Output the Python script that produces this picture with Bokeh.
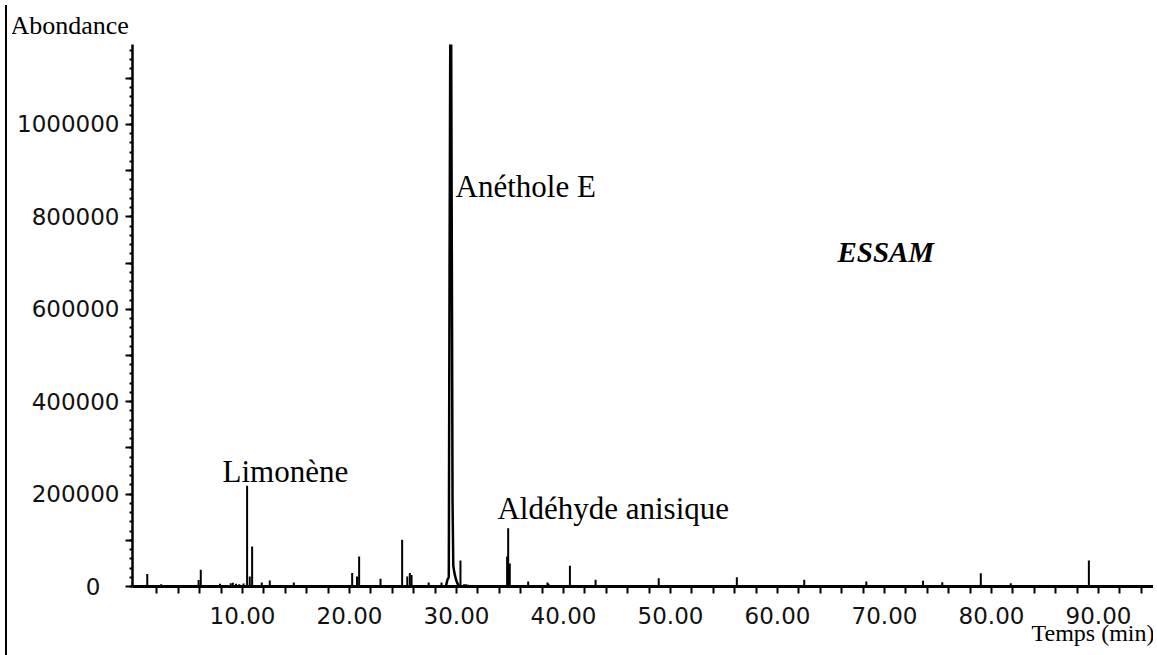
from bokeh.plotting import figure
from bokeh.layouts import row
from bokeh.models import ColumnDataSource, FixedTicker, Label, NumeralTickFormatter, Div, Title
from bokeh.embed import file_html
from bokeh.resources import INLINE

# ---- data ----
peak_time = [1.1, 2.4, 5.9, 6.1, 7.9, 8.9, 9.1, 9.4, 9.7, 10.1, 10.43, 10.68, 10.9,
             11.8, 12.55, 14.8, 20.25, 20.7, 20.9, 22.9, 24.92, 25.4, 25.64, 25.8,
             27.4, 28.6, 30.37, 30.7, 30.9, 31.1, 34.73, 34.83, 34.98, 36.7, 38.5,
             38.6, 40.6, 43.0, 48.9, 56.2, 62.5, 68.3, 73.6, 75.4, 79.0, 81.8, 89.1]
peak_abund = [27000, 5000, 14000, 36000, 6000, 7000, 8000, 6000, 5000, 6500, 218000, 21600, 86500,
              8700, 13000, 8700, 29000, 21600, 65000, 16600, 101000, 21600, 29000, 25000,
              8700, 8700, 56000, 5000, 5000, 4000, 65000, 126000, 50000, 10800, 8700,
              6000, 44700, 14400, 18000, 20000, 14400, 10800, 12300, 9400, 28800, 7200, 56000]

# main peak (anethole E) profile
main_time = [29.0, 29.16, 29.28, 29.35, 29.42, 29.5, 29.58, 29.63, 29.7, 29.8, 29.95, 30.1, 30.25]
main_abund = [0, 15000, 20000, 686000, 1200000, 1200000, 600000, 187000, 45000, 30000, 15000, 6000, 0]

x_major = [10, 20, 30, 40, 50, 60, 70, 80, 90]
x_minor = [2, 4, 6, 8, 12, 14, 16, 18, 22, 24, 26, 28, 32, 34, 36, 38, 42, 44, 46, 48,
           52, 54, 56, 58, 62, 64, 66, 68, 72, 74, 76, 78, 82, 84, 86, 88, 92, 94]
y_major = list(range(0, 1200000, 100000))
y_minor = list(range(0, 1180000, 20000))
y_labelled = [0, 200000, 400000, 600000, 800000, 1000000]

# peak annotations (data units, text middle)
annotations = [
    ("Limonène", 8.13, 248900, "31px", "normal"),
    ("Anéthole E", 29.91, 865600, "31px", "normal"),
    ("Aldéhyde anisique", 33.83, 168800, "31px", "normal"),
    ("ESSAM", 65.6, 725000, "29px", "bold italic"),
]
y_caption = "Abondance"
x_caption = "Temps (min)"

p = figure(width=1141, height=654, x_range=(-0.28, 95.14), y_range=(0, 1173000),
           output_backend="svg", toolbar_location=None,
           min_border_left=120, min_border_right=0, min_border_top=44, min_border_bottom=68)
p.xgrid.visible = False
p.ygrid.visible = False
p.outline_line_color = None
p.background_fill_color = "white"
p.border_fill_color = "white"

src = ColumnDataSource(dict(t=peak_time, h=peak_abund))
p.segment(x0="t", y0=0, x1="t", y1="h", source=src, line_width=2, line_color="black")
p.line(main_time, main_abund, line_width=2.5, line_color="black")

# x axis
xa = p.xaxis[0]
xa.ticker = FixedTicker(ticks=x_major, minor_ticks=x_minor)
xa.formatter = NumeralTickFormatter(format="0.00")
xa.axis_line_width = 3
xa.axis_line_color = "black"
xa.major_tick_out = 7
xa.major_tick_in = 0
xa.minor_tick_out = 7
xa.minor_tick_in = 0
xa.major_tick_line_width = 2
xa.minor_tick_line_width = 2
xa.major_label_text_font = "DejaVu Sans"
xa.major_label_text_font_size = "23px"
xa.major_label_text_color = "#111111"
xa.major_label_standoff = 13
xa.axis_label_text_font = "Liberation Serif"
xa.axis_label_text_font_size = "24px"
xa.axis_label_text_font_style = "normal"
xa.axis_label_text_color = "black"
xa.axis_label_standoff = -7
# centred caption; leading figure spaces push the visible words to the axis end
xa.axis_label = "\u2007" * 75 + x_caption

# y axis
ya = p.yaxis[0]
ya.ticker = FixedTicker(ticks=y_major, minor_ticks=y_minor)
ya.formatter = NumeralTickFormatter(format="0")
overrides = {v: "" for v in y_major if v not in y_labelled}
overrides[0] = "0\u2007\u2009"
ya.major_label_overrides = overrides
ya.axis_line_width = 2.5
ya.axis_line_color = "black"
ya.major_tick_out = 7
ya.major_tick_in = 0
ya.minor_tick_out = 3
ya.minor_tick_in = 0
ya.major_tick_line_width = 2
ya.minor_tick_line_width = 2
ya.major_label_text_font = "DejaVu Sans"
ya.major_label_text_font_size = "23px"
ya.major_label_text_color = "#111111"
ya.major_label_standoff = 6

p.add_layout(Title(text=y_caption, align="left", offset=-122, standoff=10,
                   text_font="Liberation Serif", text_font_size="26px",
                   text_font_style="normal", text_color="black"), "above")

for text, x, y, size, style in annotations:
    p.add_layout(Label(x=x, y=y, text=text, text_font="Liberation Serif",
                       text_font_size=size, text_font_style=style,
                       text_color="black", text_baseline="middle", text_align="left"))

edge = Div(width=2, height=654, styles={"background-color": "black"})
layout = row(edge, p, spacing=0)

open("out.html", "w").write(file_html(layout, INLINE))
